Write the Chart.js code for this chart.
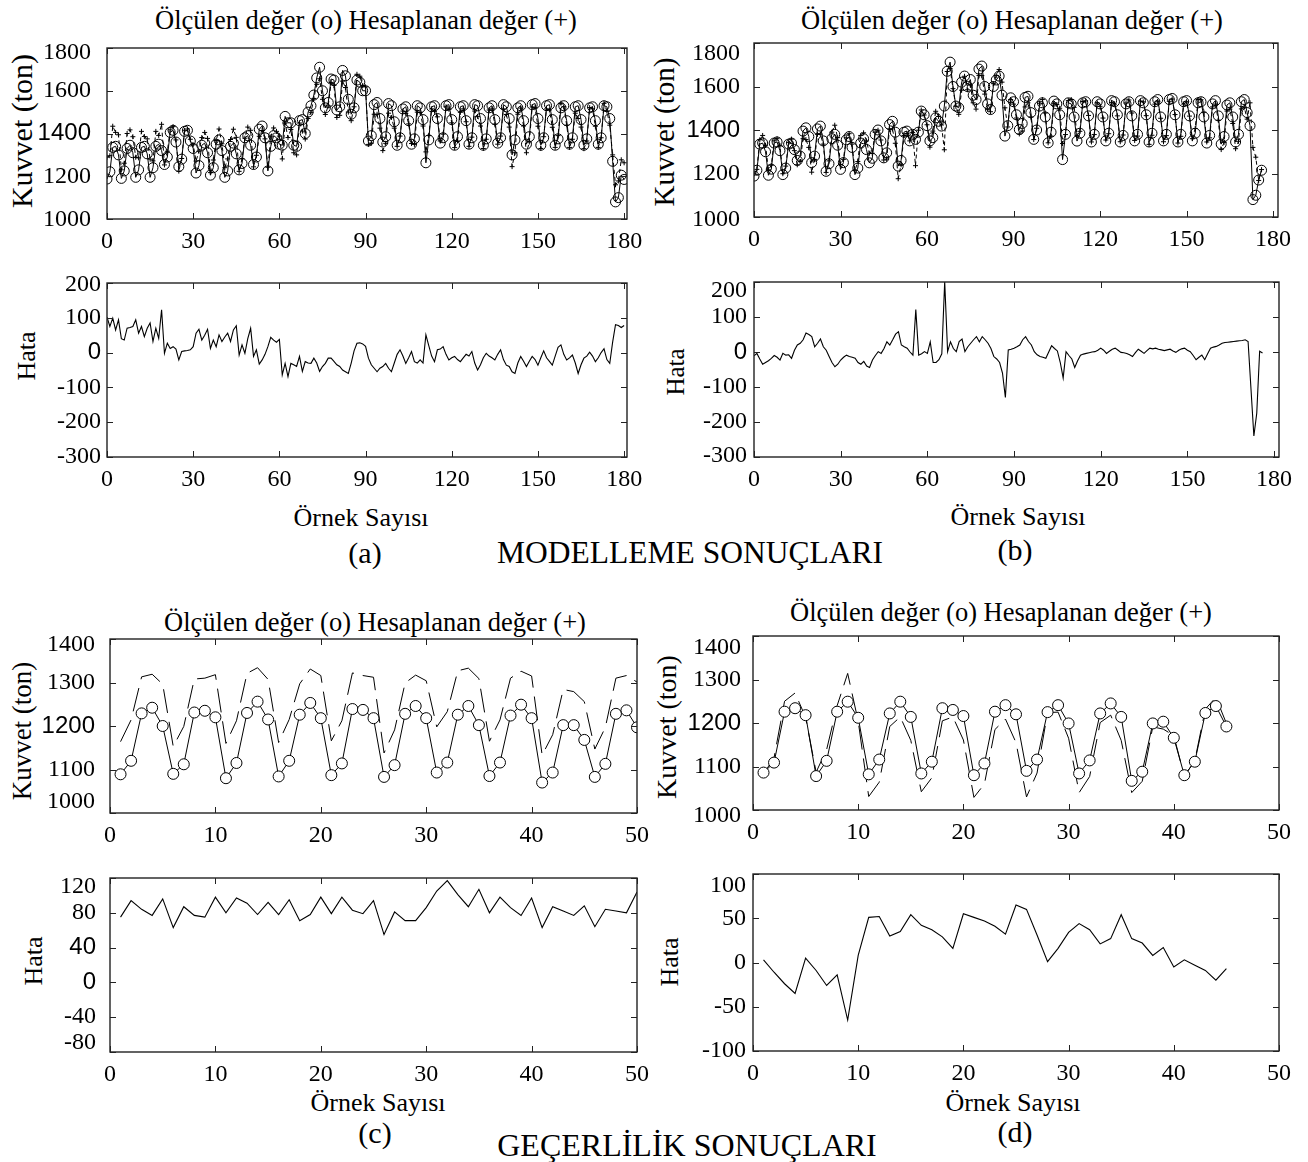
<!DOCTYPE html>
<html lang="tr">
<head>
    <meta charset="UTF-8">
    <title>Modelleme ve Geçerlilik Sonuçları</title>
    <style>
        body {
            margin: 0;
            background: #ffffff;
        }
        #fig {
            position: relative;
            width: 1308px;
            height: 1162px;
            font-family: 'Liberation Serif', 'Times New Roman', serif;
            color: #000;
            overflow: hidden;
        }
        #fig canvas {
            position: absolute;
        }
        .lbl {
            position: absolute;
            white-space: nowrap;
            transform: translate(-50%, -50%);
            line-height: 1;
        }
        .rot {
            transform: translate(-50%, -50%) rotate(-90deg);
        }
    </style>
</head>
<body>
    <div id="fig">
        <div class="lbl" style="left:366px; top:20px; font-size:26.5px;">Ölçülen değer (o) Hesaplanan değer (+)</div>
        <div class="lbl" style="left:1012px; top:20px; font-size:26.5px;">Ölçülen değer (o) Hesaplanan değer (+)</div>
        <div class="lbl" style="left:375px; top:622px; font-size:26.5px;">Ölçülen değer (o) Hesaplanan değer (+)</div>
        <div class="lbl" style="left:1001px; top:612px; font-size:26.5px;">Ölçülen değer (o) Hesaplanan değer (+)</div>

        <div class="lbl rot" style="left:22px; top:131px; font-size:30px;">Kuvvet (ton)</div>
        <div class="lbl rot" style="left:664px; top:132px; font-size:29px;">Kuvvet (ton)</div>
        <div class="lbl rot" style="left:22px; top:731px; font-size:27px;">Kuvvet (ton)</div>
        <div class="lbl rot" style="left:667px; top:727px; font-size:28px;">Kuvvet (ton)</div>

        <div class="lbl rot" style="left:27px; top:356px; font-size:26px;">Hata</div>
        <div class="lbl rot" style="left:675px; top:372px; font-size:25px;">Hata</div>
        <div class="lbl rot" style="left:34px; top:961px; font-size:26px;">Hata</div>
        <div class="lbl rot" style="left:670px; top:962px; font-size:26px;">Hata</div>

        <div class="lbl" style="left:361px; top:518px; font-size:26px;">Örnek Sayısı</div>
        <div class="lbl" style="left:1018px; top:517px; font-size:26px;">Örnek Sayısı</div>
        <div class="lbl" style="left:378px; top:1103px; font-size:26px;">Örnek Sayısı</div>
        <div class="lbl" style="left:1013px; top:1103px; font-size:26px;">Örnek Sayısı</div>

        <div class="lbl" style="left:365px; top:553px; font-size:30px;">(a)</div>
        <div class="lbl" style="left:690px; top:553px; font-size:31.5px;">MODELLEME SONUÇLARI</div>
        <div class="lbl" style="left:1015px; top:550px; font-size:30px;">(b)</div>
        <div class="lbl" style="left:375px; top:1133px; font-size:30px;">(c)</div>
        <div class="lbl" style="left:687px; top:1145px; font-size:32px;">GEÇERLİLİK SONUÇLARI</div>
        <div class="lbl" style="left:1015px; top:1132px; font-size:30px;">(d)</div>
    </div>

    <script src="https://cdn.jsdelivr.net/npm/chart.js@4"></script>
    <script>
        // ---- (a) modelleme, örnek 0..180 ----
        const aOlculen = [
            1187, 1221, 1335, 1340, 1300, 1190, 1225, 1330, 1345, 1310,
            1195, 1230, 1335, 1340, 1305, 1195, 1240, 1340, 1350, 1320,
            1255, 1290, 1405, 1415, 1360, 1245, 1280, 1410, 1415, 1365,
            1330, 1215, 1250, 1345, 1355, 1310, 1205, 1240, 1350, 1370,
            1320, 1195, 1225, 1340, 1355, 1305, 1230, 1260, 1380, 1390,
            1345, 1255, 1290, 1420, 1435, 1380, 1225, 1340, 1390, 1380,
            1350, 1345, 1480, 1450, 1450, 1345, 1340, 1460, 1465, 1400,
            1500, 1530, 1580, 1660, 1710, 1600, 1520, 1545, 1655, 1650,
            1510, 1525, 1695, 1670, 1560, 1490, 1520, 1650, 1640, 1600,
            1600, 1365, 1390, 1535, 1545, 1470, 1360, 1385, 1540, 1530,
            1455, 1345, 1380, 1515, 1525, 1460, 1350, 1375, 1530, 1520,
            1465, 1263, 1370, 1525, 1530, 1470, 1355, 1380, 1530, 1535,
            1465, 1345, 1385, 1525, 1530, 1460, 1350, 1380, 1535, 1530,
            1470, 1345, 1375, 1520, 1530, 1465, 1355, 1380, 1535, 1525,
            1470, 1300, 1370, 1520, 1530, 1460, 1350, 1385, 1535, 1540,
            1470, 1345, 1380, 1530, 1535, 1465, 1345, 1375, 1520, 1530,
            1460, 1350, 1380, 1525, 1530, 1465, 1345, 1375, 1520, 1525,
            1460, 1350, 1380, 1530, 1525, 1470, 1270, 1080, 1100, 1205,
            1185
        ];
        const aHesaplanan = [
            1289, 1296, 1434, 1405, 1394, 1230, 1261, 1400, 1417, 1385,
            1289, 1286, 1410, 1386, 1375, 1280, 1272, 1410, 1391, 1443,
            1253, 1317, 1417, 1432, 1370, 1224, 1283, 1415, 1421, 1373,
            1347, 1271, 1317, 1381, 1405, 1377, 1217, 1276, 1367, 1421,
            1352, 1240, 1281, 1372, 1420, 1382, 1223, 1282, 1378, 1430,
            1415, 1244, 1298, 1387, 1414, 1375, 1242, 1384, 1426, 1410,
            1388, 1281, 1449, 1381, 1419, 1310, 1300, 1449, 1411, 1374,
            1470, 1499, 1564, 1630, 1656, 1560, 1489, 1529, 1639, 1625,
            1475, 1485, 1645, 1615, 1500, 1460, 1525, 1677, 1668, 1625,
            1618, 1349, 1355, 1490, 1490, 1425, 1320, 1354, 1495, 1475,
            1425, 1340, 1388, 1505, 1494, 1445, 1353, 1349, 1500, 1499,
            1435, 1314, 1390, 1515, 1504, 1478, 1365, 1397, 1525, 1514,
            1450, 1334, 1365, 1499, 1515, 1455, 1340, 1383, 1505, 1480,
            1435, 1330, 1373, 1510, 1515, 1444, 1350, 1388, 1515, 1489,
            1430, 1245, 1310, 1490, 1519, 1435, 1310, 1360, 1524, 1520,
            1434, 1330, 1385, 1515, 1510, 1429, 1335, 1390, 1542, 1525,
            1439, 1335, 1373, 1495, 1470, 1430, 1329, 1365, 1521, 1515,
            1434, 1335, 1380, 1541, 1505, 1439, 1300, 1160, 1178, 1277,
            1263
        ];
        const aHata = [
            102, 75, 99, 65, 94, 40, 36, 70, 72, 75,
            94, 56, 75, 46, 70, 85, 32, 70, 41, 123,
            -2, 27, 12, 17, 10, -21, 3, 5, 6, 8,
            17, 56, 67, 36, 50, 67, 12, 36, 17, 51,
            32, 45, 56, 32, 65, 77, -7, 22, -2, 40,
            70, -11, 8, -33, -21, -5, 17, 44, 36, 30,
            38, -64, -31, -69, -31, -35, -40, -11, -54, -26,
            -30, -31, -16, -30, -54, -40, -31, -16, -16, -25,
            -35, -40, -50, -55, -60, -30, 5, 27, 28, 25,
            18, -16, -35, -45, -55, -45, -40, -31, -45, -55,
            -30, -5, 8, -10, -31, -15, 3, -26, -30, -21,
            -30, 51, 20, -10, -26, 8, 10, 17, -5, -21,
            -15, -11, -20, -26, -15, -5, -10, 3, -30, -50,
            -35, -15, -2, -10, -15, -21, -5, 8, -20, -36,
            -40, -55, -60, -30, -11, -25, -40, -25, -11, -20,
            -36, -15, 5, -15, -25, -36, -10, 15, 22, -5,
            -21, -15, -7, -30, -60, -35, -16, -10, 1, -10,
            -26, -15, 0, 11, -20, -31, 30, 80, 78, 72,
            78
        ];

        // ---- (b) modelleme, örnek 0..176 ----
        const bOlculen = [
            1188, 1215, 1335, 1340, 1300, 1192, 1220, 1340, 1345, 1305,
            1195, 1225, 1335, 1340, 1310, 1260, 1280, 1395, 1410, 1370,
            1250, 1280, 1405, 1418, 1350, 1210, 1245, 1360, 1380, 1330,
            1219, 1250, 1355, 1370, 1320, 1195, 1225, 1340, 1360, 1310,
            1249, 1270, 1380, 1400, 1350, 1272, 1295, 1425, 1440, 1390,
            1234, 1260, 1390, 1395, 1350, 1380, 1357, 1390, 1487, 1470,
            1420, 1350, 1365, 1456, 1440, 1418, 1510, 1670, 1712, 1600,
            1510, 1502, 1620, 1648, 1600, 1632, 1560, 1540, 1680, 1694,
            1600, 1520, 1494, 1600, 1630, 1648, 1560, 1372, 1420, 1548,
            1530, 1470, 1402, 1430, 1550, 1555, 1480, 1357, 1400, 1510,
            1525, 1460, 1341, 1390, 1533, 1520, 1470, 1264, 1380, 1525,
            1520, 1460, 1349, 1385, 1525, 1530, 1465, 1345, 1380, 1530,
            1520, 1460, 1350, 1385, 1535, 1530, 1470, 1345, 1375, 1520,
            1530, 1465, 1350, 1380, 1535, 1525, 1470, 1345, 1385, 1530,
            1540, 1460, 1350, 1380, 1540, 1545, 1470, 1345, 1380, 1530,
            1535, 1465, 1350, 1385, 1525, 1530, 1460, 1340, 1375, 1520,
            1535, 1465, 1335, 1370, 1515, 1525, 1460, 1345, 1380, 1530,
            1540, 1480, 1420, 1080, 1100, 1170, 1215
        ];
        const bHesaplanan = [
            1199, 1219, 1355, 1375, 1330, 1217, 1238, 1350, 1360, 1328,
            1199, 1234, 1343, 1358, 1305, 1240, 1255, 1360, 1356, 1320,
            1206, 1265, 1380, 1381, 1335, 1205, 1258, 1390, 1422, 1365,
            1242, 1265, 1364, 1383, 1335, 1213, 1255, 1375, 1387, 1350,
            1293, 1293, 1390, 1399, 1354, 1262, 1266, 1405, 1405, 1339,
            1176, 1240, 1375, 1384, 1350, 1389, 1236, 1399, 1492, 1469,
            1424, 1321, 1395, 1486, 1462, 1423, 1309, 1669, 1683, 1590,
            1509, 1472, 1583, 1647, 1585, 1607, 1525, 1496, 1651, 1650,
            1565, 1495, 1484, 1613, 1650, 1678, 1620, 1502, 1414, 1540,
            1519, 1455, 1382, 1395, 1506, 1525, 1460, 1356, 1408, 1523,
            1540, 1478, 1341, 1372, 1523, 1517, 1500, 1338, 1379, 1535,
            1540, 1504, 1374, 1394, 1531, 1534, 1467, 1345, 1379, 1525,
            1509, 1455, 1354, 1383, 1527, 1519, 1465, 1346, 1377, 1524,
            1538, 1478, 1352, 1372, 1533, 1529, 1466, 1334, 1376, 1519,
            1532, 1454, 1346, 1374, 1532, 1542, 1471, 1340, 1371, 1519,
            1530, 1464, 1360, 1407, 1540, 1539, 1482, 1345, 1364, 1506,
            1519, 1445, 1310, 1343, 1487, 1496, 1430, 1314, 1348, 1497,
            1505, 1450, 1525, 1320, 1275, 1168, 1218
        ];
        const bHata = [
            -11, -4, -20, -35, -30, -25, -18, -10, -15, -23,
            -4, -9, -8, -18, 5, 20, 25, 35, 54, 50,
            44, 15, 25, 37, 15, 5, -13, -30, -42, -35,
            -23, -15, -9, -13, -15, -18, -30, -35, -27, -40,
            -44, -23, -10, 1, -4, 10, 29, 20, 35, 51,
            58, 20, 15, 11, 0, -9, 121, -9, -5, 1,
            -4, 29, -30, -30, -22, -5, 201, 1, 29, 10,
            1, 30, 37, 1, 15, 25, 35, 44, 29, 44,
            35, 25, 10, -13, -20, -30, -60, -130, 6, 8,
            11, 15, 20, 35, 44, 30, 20, 1, -8, -13,
            -15, -18, 0, 18, 10, 3, -30, -74, 1, -10,
            -20, -44, -25, -9, -6, -4, -2, 0, 1, 5,
            11, 5, -4, 2, 8, 11, 5, -1, -2, -4,
            -8, -13, -2, 8, 2, -4, 4, 11, 9, 11,
            8, 6, 4, 6, 8, 3, -1, 5, 9, 11,
            5, 1, -10, -22, -15, -9, -22, -5, 11, 14,
            16, 20, 25, 27, 28, 29, 30, 31, 32, 33,
            35, 30, -105, -240, -175, 2, -3
        ];

        // ---- (c) geçerlilik, örnek 1..50 ----
        const cOlculen = [
            1089, 1120, 1229, 1242, 1200, 1090, 1112, 1231, 1235, 1220,
            1080, 1115, 1230, 1256, 1215, 1084, 1120, 1226, 1253, 1218,
            1087, 1114, 1239, 1237, 1218, 1083, 1110, 1228, 1246, 1218,
            1093, 1116, 1226, 1246, 1202, 1085, 1116, 1224, 1249, 1218,
            1070, 1093, 1202, 1202, 1168, 1083, 1113, 1228, 1236, 1197
        ];
        const cHesaplanan = [
            1164, 1214, 1313, 1319, 1296, 1153, 1199, 1308, 1310, 1318,
            1160, 1212, 1321, 1334, 1307, 1162, 1215, 1297, 1331, 1316,
            1166, 1212, 1322, 1316, 1312, 1138, 1191, 1299, 1317, 1304,
            1198, 1233, 1327, 1333, 1309, 1165, 1214, 1310, 1326, 1315,
            1133, 1180, 1284, 1279, 1256, 1147, 1197, 1310, 1316, 1301
        ];
        const cHata = [
            75, 94, 84, 77, 96, 63, 87, 77, 75, 98,
            80, 97, 91, 78, 92, 78, 95, 71, 78, 98,
            79, 98, 83, 79, 94, 55, 81, 71, 71, 86,
            105, 117, 101, 87, 107, 80, 98, 86, 77, 97,
            63, 87, 82, 77, 88, 64, 84, 82, 80, 104
        ];

        // ---- (d) geçerlilik, örnek 1..45 ----
        const dOlculen = [
            1086, 1109, 1226, 1234, 1218, 1078, 1113, 1226, 1249, 1212,
            1082, 1116, 1222, 1249, 1214, 1084, 1111, 1234, 1230, 1216,
            1080, 1107, 1226, 1241, 1220, 1090, 1116, 1225, 1241, 1199,
            1084, 1114, 1222, 1245, 1214, 1067, 1088, 1199, 1203, 1166,
            1080, 1111, 1223, 1239, 1192
        ];
        const dHesaplanan = [
            1083, 1120, 1250, 1269, 1213, 1087, 1139, 1240, 1314, 1204,
            1031, 1064, 1192, 1214, 1160, 1042, 1074, 1205, 1214, 1161,
            1029, 1060, 1185, 1209, 1155, 1030, 1085, 1224, 1225, 1165,
            1040, 1077, 1201, 1218, 1160, 1040, 1066, 1191, 1186, 1171,
            1077, 1114, 1232, 1259, 1199
        ];
        const dHata = [
            3, -11, -24, -35, 5, -9, -26, -14, -65, 8,
            51, 52, 30, 35, 54, 42, 37, 29, 16, 55,
            51, 47, 41, 32, 65, 60, 31, 1, 16, 34,
            44, 37, 21, 27, 54, 27, 22, 8, 17, -5,
            3, -3, -9, -20, -7
        ];

        // tick labels
        const xTicksModel = [0, 30, 60, 90, 120, 150, 180];
        const xTicksValid = [0, 10, 20, 30, 40, 50];
        const yTicksKuvvetModel = [1000, 1200, 1400, 1600, 1800];
        const yTicksHataModel = [-300, -200, -100, 0, 100, 200];
        const yTicksKuvvetValid = [1000, 1100, 1200, 1300, 1400];
        const yTicksHataC = [-80, -40, 0, 40, 80, 120];
        const yTicksHataD = [-100, -50, 0, 50, 100];

        // sample numbers
        const ornekA = aOlculen.map((v, i) => i);
        const ornekB = bOlculen.map((v, i) => i);
        const ornekC = cOlculen.map((v, i) => i + 1);
        const ornekD = dOlculen.map((v, i) => i + 1);

        const fig = document.getElementById('fig');
        const PAD = { l: 100, t: 40, r: 32, b: 42 };
        const SERIF = 'Liberation Serif';
        const SANS = 'Liberation Sans';

        function pts(xs, ys) {
            return ys.map((y, i) => ({ x: xs[i], y: y }));
        }

        // box + inward tick marks on all four sides
        const boxPlugin = {
            id: 'box',
            afterDatasetsDraw(chart) {
                const { ctx, chartArea: a, scales } = chart;
                ctx.save();
                ctx.strokeStyle = '#222';
                ctx.lineWidth = 1.4;
                ctx.strokeRect(a.left, a.top, a.right - a.left, a.bottom - a.top);
                ctx.beginPath();
                scales.x.ticks.forEach(t => {
                    const x = Math.round(scales.x.getPixelForValue(t.value)) + 0.5;
                    ctx.moveTo(x, a.bottom); ctx.lineTo(x, a.bottom - 6);
                    ctx.moveTo(x, a.top); ctx.lineTo(x, a.top + 6);
                });
                scales.y.ticks.forEach(t => {
                    const y = Math.round(scales.y.getPixelForValue(t.value)) + 0.5;
                    ctx.moveTo(a.left, y); ctx.lineTo(a.left + 6, y);
                    ctx.moveTo(a.right, y); ctx.lineTo(a.right - 6, y);
                });
                ctx.lineWidth = 1;
                ctx.stroke();
                ctx.restore();
            }
        };

        // y tick labels, with the small offsets of the end labels seen in the original
        const yLabelPlugin = {
            id: 'ylab',
            afterDraw(chart, args, o) {
                const { ctx, chartArea: a, scales } = chart;
                ctx.save();
                ctx.fillStyle = '#000';
                ctx.textAlign = 'right';
                ctx.textBaseline = 'middle';
                scales.y.ticks.forEach(t => {
                    const v = t.value;
                    ctx.font = '24px "' + (o.sans.includes(v) ? SANS : SERIF) + '"';
                    ctx.fillText(String(v), a.left - o.pad, scales.y.getPixelForValue(v) + (o.shift[v] || 0));
                });
                ctx.restore();
            }
        };

        function panel(plot, xAx, yAx, datasets) {
            const cv = document.createElement('canvas');
            const w = plot.r - plot.l + PAD.l + PAD.r;
            const h = plot.b - plot.t + PAD.t + PAD.b;
            cv.width = w;
            cv.height = h;
            cv.style.width = w + 'px';
            cv.style.height = h + 'px';
            cv.style.left = (plot.l - PAD.l) + 'px';
            cv.style.top = (plot.t - PAD.t) + 'px';
            fig.appendChild(cv);

            new Chart(cv, {
                type: 'line',
                data: { datasets: datasets },
                options: {
                    responsive: false,
                    animation: false,
                    events: [],
                    layout: { padding: { top: PAD.t, right: PAD.r, left: 0, bottom: 0 } },
                    plugins: {
                        legend: { display: false },
                        tooltip: { enabled: false },
                        ylab: { pad: yAx.pad, sans: yAx.sans, shift: yAx.shift }
                    },
                    scales: {
                        x: {
                            type: 'linear',
                            min: xAx.min,
                            max: xAx.max,
                            afterBuildTicks: s => { s.ticks = xAx.ticks.map(v => ({ value: v })); },
                            afterFit: s => { s.height = PAD.b; },
                            grid: { display: false, drawTicks: false },
                            border: { display: false },
                            ticks: {
                                color: '#000',
                                padding: 8,
                                autoSkip: false,
                                maxRotation: 0,
                                font: { family: SERIF, size: 24 },
                                callback: v => String(v)
                            }
                        },
                        y: {
                            type: 'linear',
                            min: yAx.min,
                            max: yAx.max,
                            afterBuildTicks: s => { s.ticks = yAx.ticks.map(v => ({ value: v })); },
                            afterFit: s => { s.width = PAD.l; },
                            grid: { display: false, drawTicks: false },
                            border: { display: false },
                            ticks: { display: false }
                        }
                    }
                },
                plugins: [boxPlugin, yLabelPlugin]
            });
        }

        function olculenSet(xs, ys, r, fill) {
            return {
                data: pts(xs, ys),
                borderColor: '#000',
                borderWidth: 1,
                pointStyle: 'circle',
                pointRadius: r,
                pointBorderColor: '#000',
                pointBackgroundColor: fill,
                pointBorderWidth: 1,
                tension: 0,
                order: 1
            };
        }
        function hesapSet(xs, ys, dash, r) {
            return {
                data: pts(xs, ys),
                borderColor: '#000',
                borderWidth: 1,
                borderDash: dash,
                pointStyle: 'cross',
                pointRadius: r,
                pointBorderColor: '#000',
                pointBorderWidth: 1,
                tension: 0,
                order: 2
            };
        }
        function hataSet(xs, ys) {
            return {
                data: pts(xs, ys),
                borderColor: '#000',
                borderWidth: 1.1,
                pointRadius: 0,
                tension: 0
            };
        }

        const HOLLOW = 'rgba(255,255,255,0)';

        // (a)
        panel({ l: 107, t: 48, r: 627, b: 219 },
            { min: 0, max: 181, ticks: xTicksModel },
            { min: 1000, max: 1800, ticks: yTicksKuvvetModel, pad: 16, sans: [1400], shift: { 1800: 5, 1000: 1 } },
            [olculenSet(ornekA, aOlculen, 5, HOLLOW), hesapSet(ornekA, aHesaplanan, [4, 3], 2.5)]);
        panel({ l: 107, t: 283, r: 627, b: 457 },
            { min: 0, max: 181, ticks: xTicksModel },
            { min: -300, max: 200, ticks: yTicksHataModel, pad: 6, sans: [0], shift: { 200: 2 } },
            [hataSet(ornekA, aHata)]);

        // (b)
        panel({ l: 754, t: 43, r: 1278, b: 217 },
            { min: 0, max: 181.7, ticks: xTicksModel },
            { min: 1000, max: 1800, ticks: yTicksKuvvetModel, pad: 14, sans: [1400], shift: { 1800: 11, 1000: 3 } },
            [olculenSet(ornekB, bOlculen, 5, HOLLOW), hesapSet(ornekB, bHesaplanan, [4, 3], 2.5)]);
        panel({ l: 754, t: 282, r: 1279, b: 457 },
            { min: 0, max: 181.7, ticks: xTicksModel },
            { min: -300, max: 200, ticks: yTicksHataModel, pad: 7, sans: [0], shift: { 200: 9, '-300': -1 } },
            [hataSet(ornekB, bHata)]);

        // (c)
        panel({ l: 110, t: 639, r: 637, b: 813 },
            { min: 0, max: 50, ticks: xTicksValid },
            { min: 1000, max: 1400, ticks: yTicksKuvvetValid, pad: 15, sans: [1200], shift: { 1400: 6, 1000: -11 } },
            [olculenSet(ornekC, cOlculen, 5.5, '#fff'), hesapSet(ornekC, cHesaplanan, [24, 9], 0)]);
        panel({ l: 110, t: 878, r: 637, b: 1052 },
            { min: 0, max: 50, ticks: xTicksValid },
            { min: -80, max: 120, ticks: yTicksHataC, pad: 14, sans: [40, 0], shift: { 120: 9, '-80': -9 } },
            [hataSet(ornekC, cHata)]);

        // (d)
        panel({ l: 753, t: 636, r: 1279, b: 810 },
            { min: 0, max: 50, ticks: xTicksValid },
            { min: 1000, max: 1400, ticks: yTicksKuvvetValid, pad: 12, sans: [1200], shift: { 1400: 12, 1000: 6 } },
            [olculenSet(ornekD, dOlculen, 5.5, '#fff'), hesapSet(ornekD, dHesaplanan, [24, 9], 0)]);
        panel({ l: 753, t: 874, r: 1279, b: 1051 },
            { min: 0, max: 50, ticks: xTicksValid },
            { min: -100, max: 100, ticks: yTicksHataD, pad: 7, sans: [], shift: { 100: 12 } },
            [hataSet(ornekD, dHata)]);
    </script>
</body>
</html>
